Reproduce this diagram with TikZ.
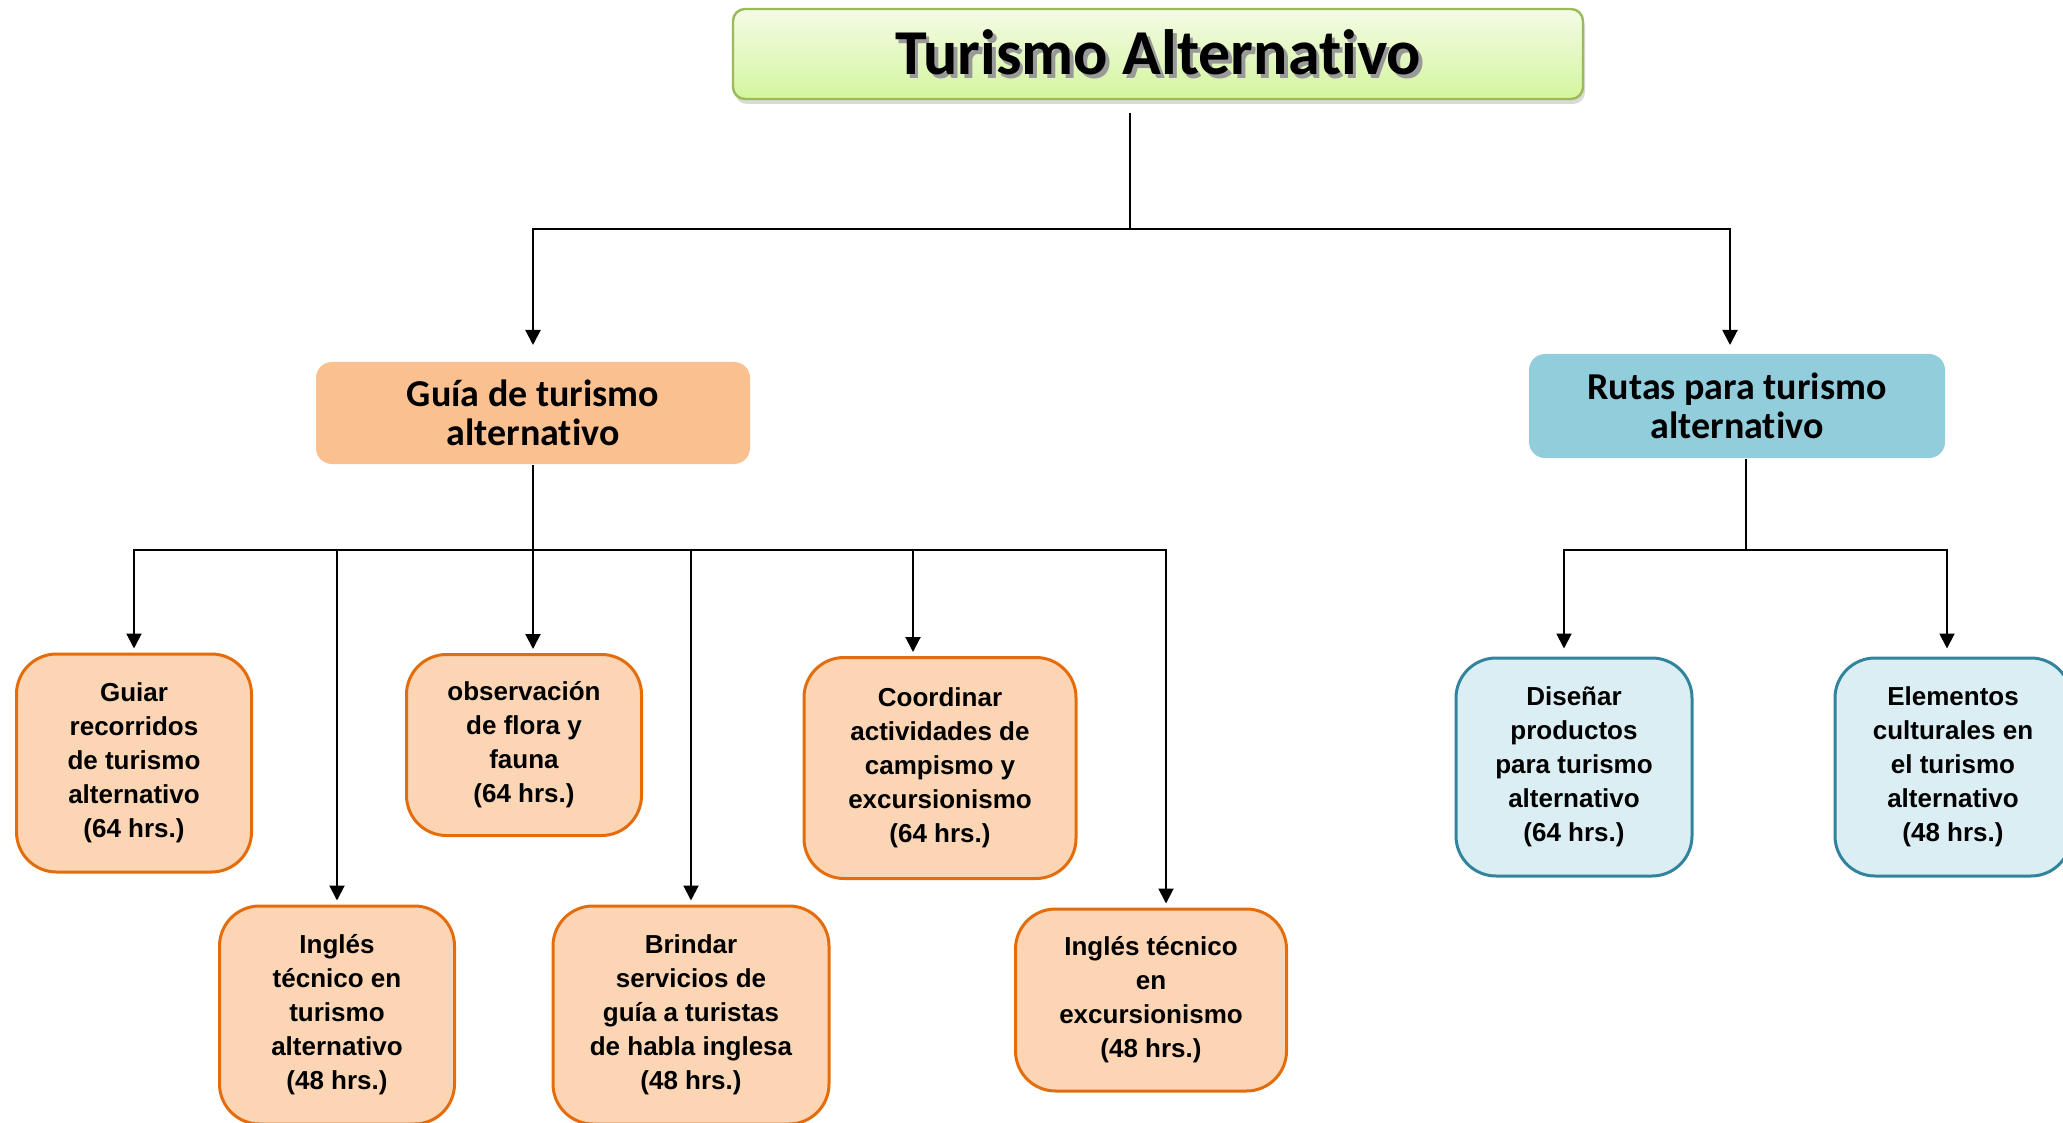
\documentclass[tikz,border=0pt]{standalone}
\usepackage{fontspec}
\setsansfont{Liberation Sans}
\newfontfamily\calibri[Ligatures=NoCommon]{Carlito}
\usepackage{tikz}
\usetikzlibrary{arrows.meta,shadows}

\definecolor{titleTop}{HTML}{F4FBE6}
\definecolor{titleBot}{HTML}{D4F59E}
\definecolor{titleLine}{HTML}{9BBB59}
\definecolor{guiaFill}{HTML}{FAC090}
\definecolor{rutasFill}{HTML}{92CDDC}
\definecolor{leafOrange}{HTML}{FCD5B5}
\definecolor{lineOrange}{HTML}{E46C0A}
\definecolor{leafBlue}{HTML}{DBEEF4}
\definecolor{lineBlue}{HTML}{31849B}

\newcommand\titleshade[1]{\makebox[0pt][l]{\hspace{1.8pt}\raisebox{-1.8pt}{\textcolor{black!40}{#1}}}#1}

\begin{document}
\begin{tikzpicture}[x=0.5pt,y=-0.5pt,>={Triangle[length=7.5pt,width=7.5pt]},
 line width=1pt]
 \tikzstyle{titlebox}=[draw=titleLine,line width=1.2pt,rounded corners=6pt,
   top color=titleTop,bottom color=titleBot,
   drop shadow={opacity=0.3,shadow xshift=1pt,shadow yshift=-2.5pt},
   minimum width=425pt,minimum height=45pt,
   font=\calibri\bfseries\fontsize{32}{36}\selectfont]
 \tikzstyle{mainbox}=[draw=none,rounded corners=8pt,align=center,
   font=\calibri\bfseries\fontsize{19}{19.5}\selectfont]
 \tikzstyle{leaf}=[draw=lineOrange,fill=leafOrange,line width=1.5pt,
   rounded corners=20pt,align=center,inner sep=0pt,minimum width=117.5pt,
   font=\sffamily\bfseries\fontsize{13}{17}\selectfont]
 \tikzstyle{blueleaf}=[leaf,draw=lineBlue,fill=leafBlue]
 \useasboundingbox (0,0) rectangle (2063,1123);

 \node[titlebox] (title) at (1158,54) {\titleshade{Turismo Alternativo}};
 \node[mainbox,fill=guiaFill,minimum width=217pt,minimum height=51pt]
   (guia) at (533,413) {Guía de turismo\\alternativo};
 \node[mainbox,fill=rutasFill,minimum width=208pt,minimum height=52pt]
   (rutas) at (1737,406) {Rutas para turismo\\alternativo};

 \node[leaf,minimum height=109pt] (guiar) at (134,763)
   {Guiar\\recorridos\\de turismo\\alternativo\\(64 hrs.)};
 \node[leaf,minimum height=90.5pt] (obs) at (524,745)
   {observación\\de flora y\\fauna\\(64 hrs.)};
 \node[leaf,minimum width=136pt,minimum height=110.5pt] (coord) at (940,768)
   {Coordinar\\actividades de\\campismo y\\excursionismo\\(64 hrs.)};
 \node[leaf,minimum height=109pt] (ingles1) at (337,1015)
   {Inglés\\técnico en\\turismo\\alternativo\\(48 hrs.)};
 \node[leaf,minimum width=138pt,minimum height=109pt] (brindar) at (691,1015)
   {Brindar\\servicios de\\guía a turistas\\de habla inglesa\\(48 hrs.)};
 \node[leaf,minimum width=135.5pt,minimum height=91pt] (ingles2) at (1151,1000)
   {Inglés técnico\\en\\excursionismo\\(48 hrs.)};
 \node[blueleaf,minimum width=118pt,minimum height=109pt] (disenar) at (1574,767)
   {Diseñar\\productos\\para turismo\\alternativo\\(64 hrs.)};
 \node[blueleaf,minimum width=118pt,minimum height=109pt] (elem) at (1953,767)
   {Elementos\\culturales en\\el turismo\\alternativo\\(48 hrs.)};

 % top level
 \coordinate (tj) at (1130,229);
 \draw[shorten <=6.5pt] (title.south -| tj) -- (tj);
 \draw[->,shorten >=8pt] (tj) -| (guia.north);
 \draw[->,shorten >=4pt] (tj) -| ([xshift=-3.5pt]rutas.north);

 % guia branch
 \coordinate (gb) at (533,550);
 \draw (guia.south) -- (gb);
 \foreach \n/\dx in {guiar/0pt,ingles1/0pt,obs/4.5pt,brindar/0pt,coord/-13.5pt,ingles2/7.5pt}
   \draw[->,shorten >=2pt] (gb) -| ([xshift=\dx]\n.north);

 % rutas branch
 \coordinate (rb) at (1746,550);
 \draw ([xshift=4.5pt]rutas.south) -- (rb);
 \foreach \n/\dx in {disenar/-5pt,elem/-3pt}
   \draw[->,shorten >=4pt] (rb) -| ([xshift=\dx]\n.north);
\end{tikzpicture}
\end{document}
